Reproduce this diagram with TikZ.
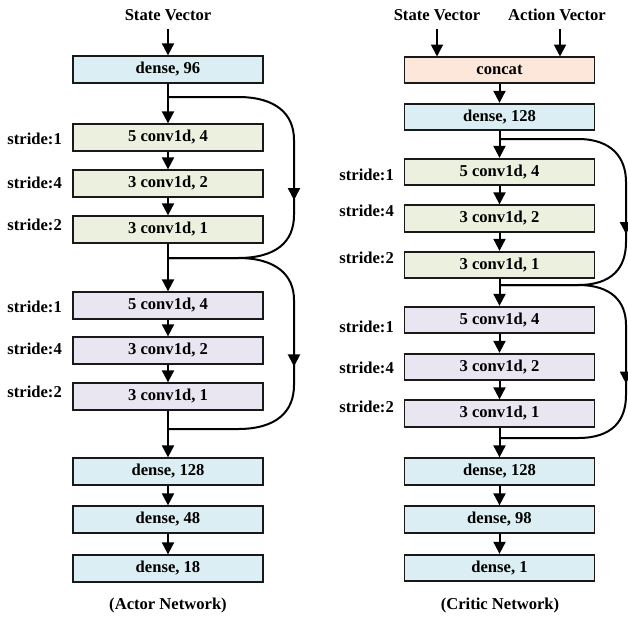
\documentclass[tikz,border=0pt]{standalone}
\usepackage{fontspec}
\setmainfont{Liberation Serif}
\usetikzlibrary{arrows.meta,decorations.markings}
\definecolor{densefill}{HTML}{DAEEF3}
\definecolor{greenfill}{HTML}{EBF1DE}
\definecolor{purplefill}{HTML}{E9E5F1}
\definecolor{catfill}{HTML}{FDE7DA}
\begin{document}
\begin{tikzpicture}
[x=1pt,y=-1pt,
 txt/.style={font=\fontsize{16.6}{19}\selectfont\bfseries,inner sep=0pt},
 layer/.style={txt,draw=black!90,line width=1.8pt,minimum width=190pt,minimum height=26.5pt},
 dense/.style={layer,fill=densefill},
 convg/.style={layer,fill=greenfill},
 convp/.style={layer,fill=purplefill},
 catbox/.style={layer,fill=catfill},
 flow/.style={line width=2pt,-{Triangle[length=12pt,width=12pt]}},
 skip/.style={line width=2pt,postaction={decorate},
   decoration={markings,mark=at position 0.56 with {\arrow{Triangle[length=12pt,width=12pt]}}}}]
\useasboundingbox (0,0) rectangle (628,616);

% actor network
\node (sA) at (168,15) [txt] {State Vector};
\node (a1) at (168,69.5) [dense] {dense, 96};
\node (a2) at (168,137.5) [convg] {5 conv1d, 4};
\node (a3) at (168,183.5) [convg] {3 conv1d, 2};
\node (a4) at (168,229.5) [convg] {3 conv1d, 1};
\node (a5) at (168,305.5) [convp] {5 conv1d, 4};
\node (a6) at (168,350.5) [convp] {3 conv1d, 2};
\node (a7) at (168,396.5) [convp] {3 conv1d, 1};
\node (a8) at (168,471.5) [dense] {dense, 128};
\node (a9) at (168,519.5) [dense] {dense, 48};
\node (a10) at (168,568.5) [dense] {dense, 18};
\node (capA) at (168,605) [txt] {(Actor Network)};
\node[txt,anchor=east] (la1) at (62,139) {stride:1};
\node[txt,anchor=east] (la2) at (62,183) {stride:4};
\node[txt,anchor=east] (la3) at (62,225) {stride:2};
\node[txt,anchor=east] (la4) at (62,307) {stride:1};
\node[txt,anchor=east] (la5) at (62,349) {stride:4};
\node[txt,anchor=east] (la6) at (62,392) {stride:2};
\coordinate (aS1) at (168,97);
\coordinate (aM1) at (168,258);
\coordinate (aM2) at (168,429);

\draw[flow] (168,29) -- (a1);
\draw[flow] (a1) -- (a2);
\draw[flow] (a2) -- (a3);
\draw[flow] (a3) -- (a4);
\draw[flow] (a4) -- (a5);
\draw[flow] (a5) -- (a6);
\draw[flow] (a6) -- (a7);
\draw[flow] (a7) -- (a8);
\draw[flow] (a8) -- (a9);
\draw[flow] (a9) -- (a10);
\draw[skip] (aS1) -- (238,97) .. controls (276,97) and (294,114) .. (294,140)
  -- (294,215) .. controls (294,242) and (276,258) .. (238,258) -- (aM1);
\draw[skip] (aM1) -- (238,258) .. controls (276,258) and (294,275) .. (294,300)
  -- (294,385) .. controls (294,412) and (276,429) .. (238,429) -- (aM2);

% critic network
\node (sC) at (437,15) [txt] {State Vector};
\node (aC) at (557,15) [txt] {Action Vector};
\node (c0) at (499.5,70) [catbox] {concat};
\node (c1) at (499.5,117) [dense] {dense, 128};
\node (c2) at (499.5,172) [convg] {5 conv1d, 4};
\node (c3) at (499.5,218.5) [convg] {3 conv1d, 2};
\node (c4) at (499.5,265) [convg] {3 conv1d, 1};
\node (c5) at (499.5,320) [convp] {5 conv1d, 4};
\node (c6) at (499.5,367) [convp] {3 conv1d, 2};
\node (c7) at (499.5,413.5) [convp] {3 conv1d, 1};
\node (c8) at (499.5,471.5) [dense] {dense, 128};
\node (c9) at (499.5,519.5) [dense] {dense, 98};
\node (c10) at (499.5,568) [dense] {dense, 1};
\node (capC) at (500,605) [txt] {(Critic Network)};
\node[txt,anchor=east] (lc1) at (394,175) {stride:1};
\node[txt,anchor=east] (lc2) at (394,211) {stride:4};
\node[txt,anchor=east] (lc3) at (394,258) {stride:2};
\node[txt,anchor=east] (lc4) at (394,327) {stride:1};
\node[txt,anchor=east] (lc5) at (394,368) {stride:4};
\node[txt,anchor=east] (lc6) at (394,407) {stride:2};
\coordinate (cS1) at (499.5,139);
\coordinate (cM1) at (499.5,285);
\coordinate (cM2) at (499.5,438);

\draw[flow] (437,29) -- (437,56.5);
\draw[flow] (560,29) -- (560,56.5);
\draw[flow] (c0) -- (c1);
\draw[flow] (c1) -- (c2);
\draw[flow] (c2) -- (c3);
\draw[flow] (c3) -- (c4);
\draw[flow] (c4) -- (c5);
\draw[flow] (c5) -- (c6);
\draw[flow] (c6) -- (c7);
\draw[flow] (c7) -- (c8);
\draw[flow] (c8) -- (c9);
\draw[flow] (c9) -- (c10);
\draw[skip] (cS1) -- (578,139) .. controls (612,139) and (626,158) .. (626,182)
  -- (626,242) .. controls (626,268) and (612,285) .. (578,285) -- (cM1);
\draw[skip] (cM1) -- (578,285) .. controls (612,285) and (626,302) .. (626,325)
  -- (626,395) .. controls (626,421) and (612,438) .. (578,438) -- (cM2);
\end{tikzpicture}
\end{document}
